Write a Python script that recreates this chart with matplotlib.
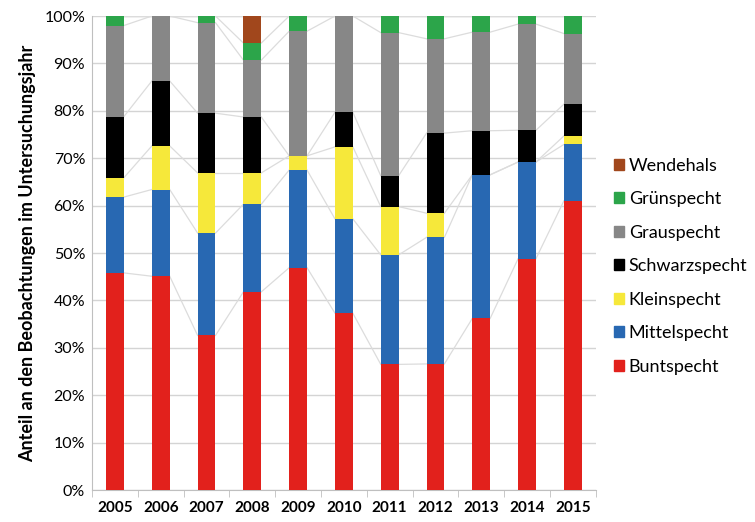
import numpy as np
import matplotlib.pyplot as plt
from matplotlib.patches import Patch
from matplotlib.ticker import PercentFormatter

years = ['2005', '2006', '2007', '2008', '2009', '2010',
         '2011', '2012', '2013', '2014', '2015']

# share of observations per species and year (%)
buntspecht    = [45.8, 45.1, 32.6, 41.8, 46.9, 37.3, 26.5, 26.6, 36.2, 48.8, 61.0]
mittelspecht  = [16.0, 18.3, 21.6, 18.5, 20.6, 19.9, 23.1, 26.7, 30.3, 20.4, 11.9]
kleinspecht   = [4.1, 9.2, 12.7, 6.6, 3.0, 15.2, 10.2, 5.1, 0.0, 0.0, 1.8]
schwarzspecht = [12.9, 13.7, 12.6, 11.8, 0.0, 7.3, 6.5, 16.9, 9.3, 6.7, 6.7]
grauspecht    = [19.2, 13.7, 19.1, 12.0, 26.3, 20.3, 30.2, 19.9, 20.8, 22.4, 14.9]
gruenspecht   = [2.0, 0.0, 1.4, 3.6, 3.2, 0.0, 3.5, 4.8, 3.4, 1.7, 3.7]
wendehals     = [0.0, 0.0, 0.0, 5.7, 0.0, 0.0, 0.0, 0.0, 0.0, 0.0, 0.0]

series = [
    ('Buntspecht', buntspecht, '#e2211c'),
    ('Mittelspecht', mittelspecht, '#2868b2'),
    ('Kleinspecht', kleinspecht, '#f6e83a'),
    ('Schwarzspecht', schwarzspecht, '#000000'),
    ('Grauspecht', grauspecht, '#878787'),
    ('Grünspecht', gruenspecht, '#2ca54a'),
    ('Wendehals', wendehals, '#a1471c'),
]

plt.rcParams['font.family'] = ['Lato', 'DejaVu Sans']

fig = plt.figure(figsize=(7.55, 5.22), dpi=100)
ax = fig.add_axes([0.122, 0.0613, 0.667, 0.908])

x = np.arange(len(years))
width = 0.39
bottom = np.zeros(len(years))
for name, vals, color in series:
    vals = np.array(vals)
    ax.bar(x, vals, width, bottom=bottom, color=color, label=name, zorder=3)
    top = bottom + vals
    # series lines between neighbouring bars
    for i in range(len(years) - 1):
        ax.plot([x[i] + width / 2, x[i + 1] - width / 2], [top[i], top[i + 1]],
                color='#dcdcdc', lw=0.9, zorder=2)
    bottom = top

ax.set_xlim(-0.5, len(years) - 0.5)
ax.set_ylim(0, 100)
ax.set_yticks(np.arange(0, 101, 10))
ax.yaxis.set_major_formatter(PercentFormatter(decimals=0))
ax.set_xticks(x)
ax.set_xticklabels(years, fontsize=11, fontweight='bold')
ax.set_xticks(np.arange(-0.5, len(years), 1), minor=True)
ax.tick_params(axis='x', which='major', length=0, pad=8)
ax.tick_params(axis='x', which='minor', length=5, color='#bfbfbf')
ax.tick_params(axis='y', length=0, labelsize=11.5, pad=5)
ax.grid(axis='y', color='#d4d4d4', lw=1, zorder=0)
for s in ['top', 'right']:
    ax.spines[s].set_visible(False)
for s in ['left', 'bottom']:
    ax.spines[s].set_color('#bfbfbf')

ax.set_ylabel('Anteil an den Beobachtungen im Untersuchungsjahr',
              fontsize=13, fontweight='bold', labelpad=6)

handles = [Patch(color=c, label=n) for n, v, c in series][::-1]
fig.legend(handles=handles, loc='center left', bbox_to_anchor=(0.792, 0.49),
           frameon=False, fontsize=13, handlelength=0.55, handleheight=0.55,
           handletextpad=0.25, labelspacing=0.97)

fig.savefig('out.png', dpi=100)
